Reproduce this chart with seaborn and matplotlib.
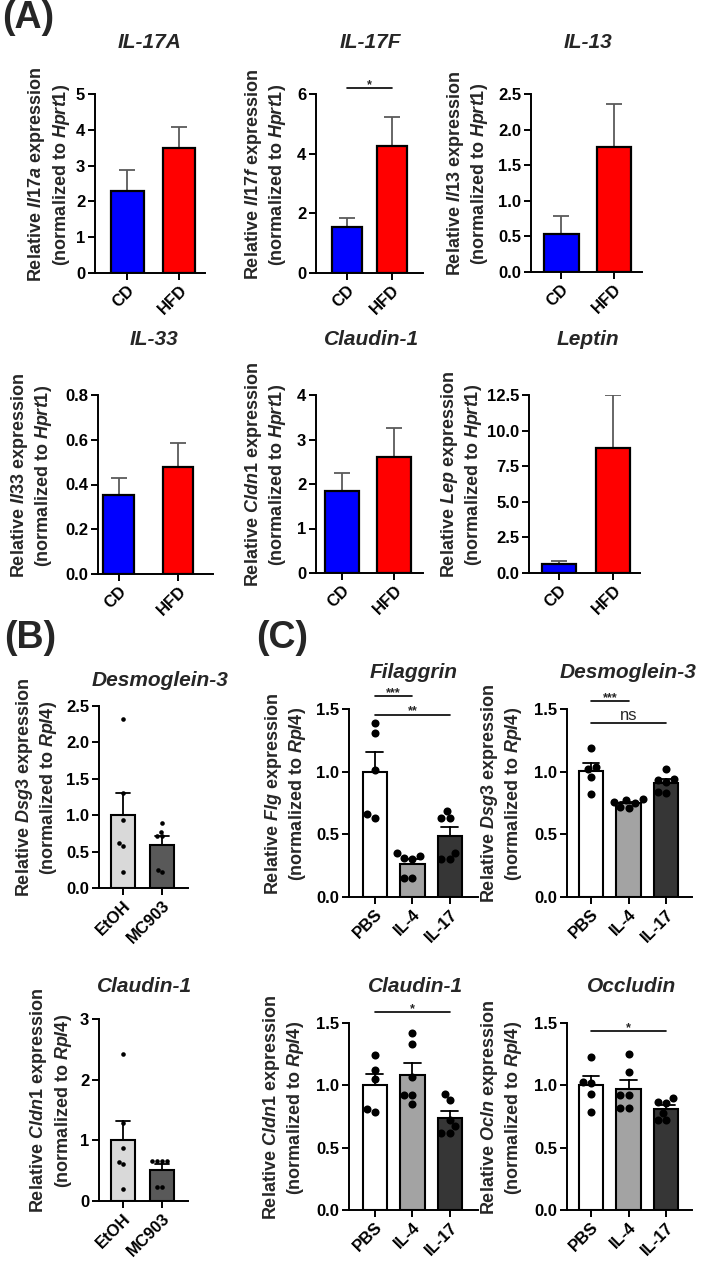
import matplotlib as mpl
mpl.use('Agg')
import matplotlib.pyplot as plt
from matplotlib.ticker import FormatStrFormatter
import numpy as np
import pandas as pd
import seaborn as sns

# ---- values ----
a_groups = ['CD', 'HFD']
a_colors = ['#0000FF', '#FF0000']

il17a_mean = [2.30, 3.50]
il17a_sem = [0.58, 0.57]
il17f_mean = [1.55, 4.27]
il17f_sem = [0.28, 0.95]
il13_mean = [0.54, 1.75]
il13_sem = [0.25, 0.61]
il33_mean = [0.355, 0.476]
il33_sem = [0.073, 0.108]
cldn1_a_mean = [1.85, 2.60]
cldn1_a_sem = [0.39, 0.65]
lep_mean = [0.65, 8.80]
lep_sem = [0.17, 3.68]

b_groups = ['EtOH', 'MC903']
b_colors = ['#D9D9D9', '#595959']
dsg3_b_etoh = [2.32, 1.31, 0.93, 0.62, 0.58, 0.22]
dsg3_b_mc903 = [0.89, 0.77, 0.72, 0.71, 0.25, 0.22]
cldn1_b_etoh = [2.43, 1.28, 0.88, 0.65, 0.61, 0.19]
cldn1_b_mc903 = [0.66, 0.66, 0.66, 0.66, 0.23, 0.23]

c_groups = ['PBS', 'IL-4', 'IL-17']
c_colors = ['#FFFFFF', '#A3A3A3', '#363636']
flg_pbs = [1.39, 1.31, 1.01, 0.66, 0.63]
flg_il4 = [0.35, 0.33, 0.31, 0.30, 0.15, 0.15]
flg_il17 = [0.69, 0.63, 0.63, 0.35, 0.30, 0.30]
dsg3_c_pbs = [1.19, 1.04, 1.02, 0.96, 0.82]
dsg3_c_il4 = [0.78, 0.77, 0.76, 0.75, 0.72, 0.71]
dsg3_c_il17 = [1.02, 0.94, 0.93, 0.92, 0.84, 0.83]
cldn1_c_pbs = [1.24, 1.12, 1.05, 0.81, 0.79]
cldn1_c_il4 = [1.42, 1.33, 1.07, 0.92, 0.92, 0.85]
cldn1_c_il17 = [0.93, 0.88, 0.72, 0.67, 0.62, 0.62]
ocln_pbs = [1.23, 1.03, 1.02, 0.93, 0.79]
ocln_il4 = [1.25, 1.11, 0.92, 0.92, 0.82, 0.82]
ocln_il17 = [0.90, 0.87, 0.86, 0.78, 0.72, 0.72]

W, H = 709, 1263


def add_px_axes(fig, l, t, r, b):
    return fig.add_axes([l / W, 1 - b / H, (r - l) / W, (b - t) / H])


def put_text(fig, x, y, s, **kw):
    fig.text(x / W, 1 - y / H, s, **kw)


def ylab(gene, ref):
    return 'Relative $\\mathit{%s}$ expression\n(normalized to $\\mathit{%s}$)' % (gene, ref)


def finish(ax, ymax, step, fmt, xlim):
    ax.set_xlim(*xlim)
    ax.set_ylim(0, ymax)
    ax.set_yticks(np.arange(0, ymax + step / 2, step))
    ax.yaxis.set_major_formatter(FormatStrFormatter(fmt))
    ax.set_xlabel('')
    ax.set_ylabel('')
    sns.despine(ax=ax)
    for s in ['left', 'bottom']:
        ax.spines[s].set_linewidth(1.4)
    ax.tick_params(direction='out', length=5, width=1.4, labelsize=12, pad=2)
    for lab in ax.get_xticklabels():
        lab.set_rotation(45)
        lab.set_ha('right')
        lab.set_rotation_mode('anchor')


def sig(ax, i, j, y, txt):
    ax.plot([i, j], [y, y], color='black', lw=1.2, clip_on=False)
    if txt == 'ns':
        ax.annotate(txt, xy=((i + j) / 2, y), xytext=(0, 2), textcoords='offset points',
                    ha='center', va='baseline', fontsize=12, fontweight='normal', annotation_clip=False)
    else:
        ax.annotate(txt, xy=((i + j) / 2, y), xytext=(0, 0), textcoords='offset points',
                    ha='center', va='baseline', fontsize=9, fontweight='bold', annotation_clip=False)


def draw_mean_sem(ax, means, sems, width):
    df = pd.DataFrame({'group': a_groups, 'value': means})
    sns.barplot(data=df, x='group', y='value', hue='group', order=a_groups, hue_order=a_groups,
                palette=a_colors, saturation=1, edgecolor='black', linewidth=1.6, width=width,
                errorbar=None, legend=False, ax=ax)
    ax.errorbar(np.arange(len(means)), means, yerr=[np.zeros(len(sems)), sems], fmt='none',
                ecolor='#5a5a5a', elinewidth=1.3, capsize=6, capthick=1.3, zorder=0.9)


def draw_points(ax, groups, colors, values, width, cap, dot):
    df = pd.DataFrame({'group': np.repeat(groups, [len(v) for v in values]),
                       'value': np.concatenate(values)})
    sns.barplot(data=df, x='group', y='value', hue='group', order=groups, hue_order=groups,
                palette=colors, saturation=1, errorbar='se', capsize=cap,
                err_kws={'color': 'black', 'linewidth': 1.3, 'zorder': 0.9},
                edgecolor='black', linewidth=1.5, width=width, legend=False, ax=ax)
    sns.swarmplot(data=df, x='group', y='value', order=groups, color='black', size=dot,
                  ax=ax, zorder=3)


sns.set_theme(style='ticks')
plt.rcParams.update({
    'font.family': ['Liberation Sans', 'DejaVu Sans'],
    'font.weight': 'bold',
    'mathtext.fontset': 'custom',
    'mathtext.rm': 'Liberation Sans:bold',
    'mathtext.it': 'Liberation Sans:italic:bold',
    'mathtext.bf': 'Liberation Sans:bold',
    'axes.edgecolor': 'black',
    'xtick.color': 'black',
    'ytick.color': 'black',
})

fig = plt.figure(figsize=(W / 100, H / 100), dpi=100)

# ---- panel A ----
a_panels = [
    # means, sems, title, gene, ymax, step, fmt, (l, t, r, b), xlim, width, title x, label x
    (il17a_mean, il17a_sem, 'IL-17A', 'Il17a', 5, 1, '%d', (95, 94, 205, 273), (-0.62, 1.5), 0.63, 150, 49),
    (il17f_mean, il17f_sem, 'IL-17F', 'Il17f', 6, 2, '%d', (316, 94, 423, 273), (-0.69, 1.69), 0.67, 370, 265),
    (il13_mean, il13_sem, 'IL-13', 'Il13', 2.5, 0.5, '%.1f', (531, 94, 642, 272), (-0.57, 1.53), 0.66, 588, 468),
    (il33_mean, il33_sem, 'IL-33', 'Il33', 0.8, 0.2, '%.1f', (98, 395, 213, 574), (-0.35, 1.59), 0.52, 154, 32),
    (cldn1_a_mean, cldn1_a_sem, 'Claudin-1', 'Cldn1', 4, 1, '%d', (316, 395, 423, 573), (-0.5, 1.55), 0.65, 372, 265),
    (lep_mean, lep_sem, 'Leptin', 'Lep', 12.5, 2.5, '%.1f', (529, 395, 640, 573), (-0.56, 1.5), 0.63, 588, 462),
]
for means, sems, title, gene, ymax, step, fmt, rect, xlim, width, tx, lx in a_panels:
    ax = add_px_axes(fig, *rect)
    draw_mean_sem(ax, means, sems, width)
    finish(ax, ymax, step, fmt, xlim)
    ty = rect[1] - 51 if rect[1] < 200 else rect[1] - 55
    put_text(fig, tx, ty, title, ha='center', va='center', fontsize=15, fontstyle='italic', fontweight='bold')
    put_text(fig, lx, (rect[1] + rect[3]) / 2 - 9, ylab(gene, 'Hprt1'), rotation=90,
             ha='center', va='center', multialignment='center', fontsize=13, fontweight='bold')

ax17f = fig.axes[1]
sig(ax17f, 0, 1, 6.2, '*')

# ---- panel B ----
b_panels = [
    ([dsg3_b_etoh, dsg3_b_mc903], 'Desmoglein-3', 'Dsg3', 2.5, 0.5, '%.1f', (99, 706, 188, 888), 160, 680, 37),
    ([cldn1_b_etoh, cldn1_b_mc903], 'Claudin-1', 'Cldn1', 3, 1, '%d', (99, 1019, 188, 1201), 145, 986, 51),
]
for values, title, gene, ymax, step, fmt, rect, tx, ty, lx in b_panels:
    ax = add_px_axes(fig, *rect)
    draw_points(ax, b_groups, b_colors, values, 0.6, 0.37, 3.3)
    finish(ax, ymax, step, fmt, (-0.62, 1.67))
    put_text(fig, tx, ty, title, ha='center', va='center', fontsize=15, fontstyle='italic', fontweight='bold')
    put_text(fig, lx, (rect[1] + rect[3]) / 2 - 9, ylab(gene, 'Rpl4'), rotation=90,
             ha='center', va='center', multialignment='center', fontsize=13, fontweight='bold')

# ---- panel C ----
c_panels = [
    ([flg_pbs, flg_il4, flg_il17], 'Filaggrin', 'Flg', (349, 709, 478, 897), (-0.69, 2.75), 414, 673, 285,
     [(0, 1, 1.605, '***'), (0, 2, 1.455, '**')]),
    ([dsg3_c_pbs, dsg3_c_il4, dsg3_c_il17], 'Desmoglein-3', 'Dsg3', (567, 709, 692, 897), (-0.64, 2.69), 628, 673, 502,
     [(0, 1, 1.56, '***'), (0, 2, 1.39, 'ns')]),
    ([cldn1_c_pbs, cldn1_c_il4, cldn1_c_il17], 'Claudin-1', 'Cldn1', (349, 1023, 478, 1210), (-0.69, 2.75), 416, 987, 284,
     [(0, 2, 1.59, '*')]),
    ([ocln_pbs, ocln_il4, ocln_il17], 'Occludin', 'Ocln', (567, 1023, 692, 1210), (-0.64, 2.69), 632, 987, 502,
     [(0, 2, 1.434, '*')]),
]
for values, title, gene, rect, xlim, tx, ty, lx, sigs in c_panels:
    ax = add_px_axes(fig, *rect)
    draw_points(ax, c_groups, c_colors, values, 0.65, 0.45, 5.8)
    finish(ax, 1.5, 0.5, '%.1f', xlim)
    for i, j, y, txt in sigs:
        sig(ax, i, j, y, txt)
    put_text(fig, tx, ty, title, ha='center', va='center', fontsize=15, fontstyle='italic', fontweight='bold')
    put_text(fig, lx, (rect[1] + rect[3]) / 2 - 9, ylab(gene, 'Rpl4'), rotation=90,
             ha='center', va='center', multialignment='center', fontsize=13, fontweight='bold')

# panel letters
put_text(fig, 2, 0, '(A)', ha='left', va='top', fontsize=27, fontweight='bold')
put_text(fig, 4, 620, '(B)', ha='left', va='top', fontsize=27, fontweight='bold')
put_text(fig, 256, 620, '(C)', ha='left', va='top', fontsize=27, fontweight='bold')

fig.savefig('out.png', dpi=100, facecolor='white')
